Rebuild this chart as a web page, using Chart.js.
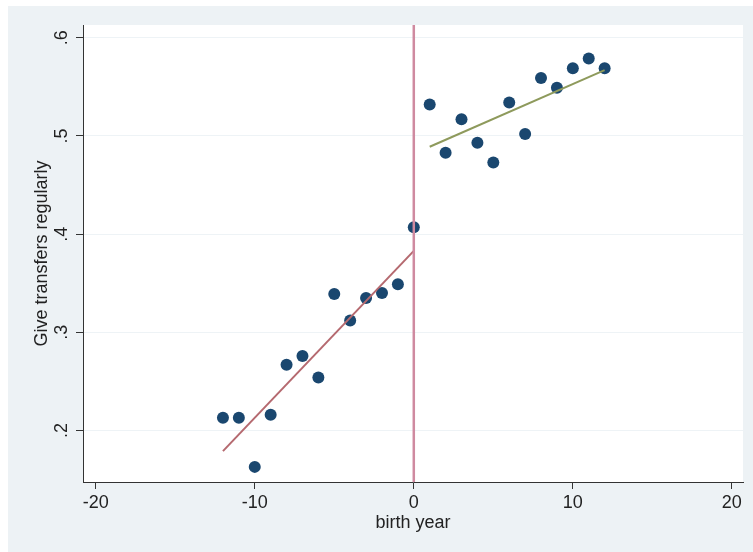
<!DOCTYPE html>
<html>
<head>
<meta charset="utf-8">
<script src="https://cdn.jsdelivr.net/npm/chart.js@4/dist/chart.umd.min.js"></script>
<style>
  html, body { margin: 0; padding: 0; background: #ffffff; }
  #wrap { width: 753px; height: 552px; position: relative; }
</style>
</head>
<body>
<div id="wrap"><canvas id="c" width="753" height="552"></canvas></div>
<script>
// Birth-year cohorts relative to the cutoff and the share giving transfers regularly
const BIRTH_YEAR = [-12, -11, -10, -9, -8, -7, -6, -5, -4, -3, -2, -1, 0,
                    1, 2, 3, 4, 5, 6, 7, 8, 9, 10, 11, 12];
const GIVE_SHARE = [0.213, 0.213, 0.163, 0.216, 0.267, 0.276, 0.254, 0.339, 0.312, 0.335, 0.340, 0.349, 0.407,
                    0.532, 0.483, 0.517, 0.493, 0.473, 0.534, 0.502, 0.559, 0.549, 0.569, 0.579, 0.569];

// Linear fit on each side of the cutoff (end points)
const FIT_LEFT_X = [-12, 0];
const FIT_LEFT_Y = [0.179, 0.383];
const FIT_RIGHT_X = [1, 12];
const FIT_RIGHT_Y = [0.489, 0.567];

// Axis ranges and ticks
const X_MIN = -20.8, X_MAX = 20.7;
const Y_MIN = 0.1476, Y_MAX = 0.6130;
const X_TICKS = [-20, -10, 0, 10, 20];
const Y_TICKS = [0.2, 0.3, 0.4, 0.5, 0.6];
const CUTOFF = 0;

const X_TITLE = 'birth year';
const Y_TITLE = 'Give transfers regularly';

const FONT = 'Liberation Sans, Arial, Helvetica, sans-serif';

const toPoints = (xs, ys) => xs.map((x, i) => ({ x: x, y: ys[i] }));

// Light outer region and white plot region
const backgroundPlugin = {
  id: 'regions',
  beforeDraw(chart) {
    const { ctx, chartArea } = chart;
    ctx.save();
    ctx.fillStyle = '#edf2f5';
    ctx.fillRect(8, 6, chart.width - 8, chart.height - 6);
    ctx.fillStyle = '#ffffff';
    ctx.fillRect(chartArea.left, chartArea.top, chartArea.right - chartArea.left, chartArea.bottom - chartArea.top);
    ctx.restore();
  }
};

new Chart(document.getElementById('c'), {
  type: 'scatter',
  data: {
    datasets: [
      {
        type: 'line',
        data: toPoints([CUTOFF, CUTOFF], [Y_MIN, Y_MAX]),
        borderColor: '#cf8aa0',
        borderWidth: 2.5,
        pointRadius: 0,
        showLine: true
      },
      {
        type: 'line',
        data: toPoints(FIT_LEFT_X, FIT_LEFT_Y),
        borderColor: '#b5696f',
        borderWidth: 2,
        pointRadius: 0,
        showLine: true
      },
      {
        type: 'line',
        data: toPoints(FIT_RIGHT_X, FIT_RIGHT_Y),
        borderColor: '#8e9a5c',
        borderWidth: 2,
        pointRadius: 0,
        showLine: true
      },
      {
        data: toPoints(BIRTH_YEAR, GIVE_SHARE),
        backgroundColor: '#1a476f',
        borderWidth: 0,
        pointRadius: 6,
        pointHoverRadius: 6
      }
    ]
  },
  options: {
    responsive: false,
    animation: false,
    events: [],
    layout: { padding: { left: 8, top: 25, right: 10, bottom: 0 } },
    plugins: { legend: { display: false }, tooltip: { enabled: false } },
    scales: {
      x: {
        type: 'linear',
        min: X_MIN,
        max: X_MAX,
        afterBuildTicks(scale) { scale.ticks = X_TICKS.map(v => ({ value: v })); },
        afterFit(scale) { scale.height = 70; },
        grid: { drawOnChartArea: false, tickLength: 7, tickColor: '#333333', tickWidth: 1 },
        border: { display: true, color: '#333333', width: 1 },
        ticks: {
          autoSkip: false, maxRotation: 0, minRotation: 0, padding: 3,
          color: '#222222', font: { family: FONT, size: 18 },
          callback: v => String(v)
        },
        title: {
          display: true, text: X_TITLE, color: '#222222',
          font: { family: FONT, size: 18 }, padding: { top: 0, bottom: 18 }
        }
      },
      y: {
        type: 'linear',
        min: Y_MIN,
        max: Y_MAX,
        afterBuildTicks(scale) { scale.ticks = Y_TICKS.map(v => ({ value: v })); },
        afterFit(scale) { scale.width = 75; },
        grid: { color: '#eef3f6', lineWidth: 1, tickLength: 7, tickColor: '#333333', tickWidth: 1 },
        border: { display: true, color: '#333333', width: 1 },
        ticks: {
          autoSkip: false, minRotation: 90, maxRotation: 90, crossAlign: 'center', padding: 6,
          color: '#222222', font: { family: FONT, size: 18 },
          callback: v => v.toFixed(1).replace(/^0/, '')
        },
        title: {
          display: true, text: Y_TITLE, color: '#222222',
          font: { family: FONT, size: 18 }, padding: { top: 23, bottom: 0 }
        }
      }
    }
  },
  plugins: [backgroundPlugin]
});
</script>
</body>
</html>
